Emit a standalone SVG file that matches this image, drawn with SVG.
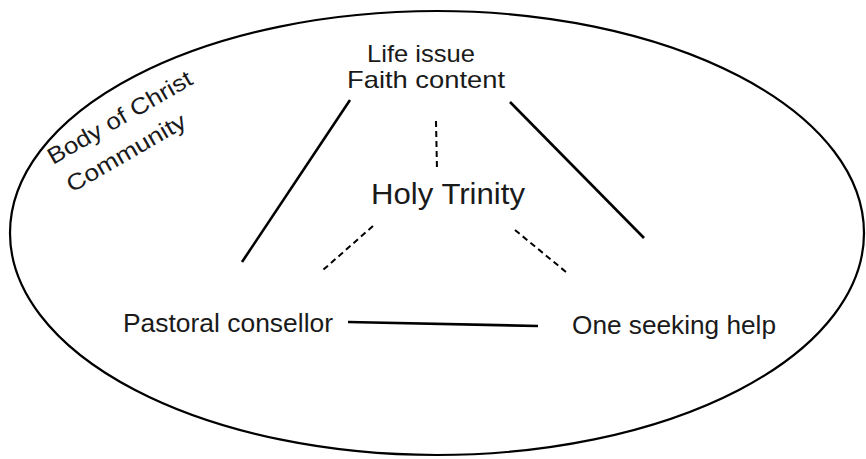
<svg xmlns="http://www.w3.org/2000/svg" width="866" height="459" viewBox="0 0 866 459">
<style>
text{font-family:"Liberation Sans",Arial,sans-serif;fill:#1a1a1a;}
.solid{stroke:#000;stroke-width:2.6;fill:none;}
.dash{stroke:#000;stroke-width:2;fill:none;stroke-dasharray:6 4;}
</style>
<rect width="866" height="459" fill="#fff"/>
<g id="community">
<ellipse cx="437" cy="233" rx="427" ry="222" fill="none" stroke="#000" stroke-width="2.2"/>
<text transform="translate(53,165) rotate(-30)" font-size="23" textLength="163" lengthAdjust="spacingAndGlyphs">Body of Christ</text>
<text transform="translate(72,193) rotate(-30)" font-size="23" textLength="134" lengthAdjust="spacingAndGlyphs">Community</text>
</g>
<g id="life-issue">
<text x="367" y="62" font-size="24" textLength="108" lengthAdjust="spacingAndGlyphs">Life issue</text>
<text x="347" y="88" font-size="24" textLength="158" lengthAdjust="spacingAndGlyphs">Faith content</text>
</g>
<g id="holy-trinity">
<text x="371" y="204" font-size="29" textLength="154" lengthAdjust="spacingAndGlyphs">Holy Trinity</text>
</g>
<g id="pastoral-counsellor">
<text x="123" y="332" font-size="25" textLength="210" lengthAdjust="spacingAndGlyphs">Pastoral consellor</text>
</g>
<g id="one-seeking-help">
<text x="572" y="334" font-size="25" textLength="204" lengthAdjust="spacingAndGlyphs">One seeking help</text>
</g>
<g id="connectors">
<line class="solid" x1="350" y1="100" x2="242" y2="262"/>
<line class="solid" x1="510" y1="102" x2="644" y2="238"/>
<line class="solid" x1="348" y1="322" x2="538" y2="326" stroke-width="3"/>
<line class="dash" x1="436" y1="121" x2="437" y2="170"/>
<line class="dash" x1="373" y1="226" x2="323" y2="270"/>
<line class="dash" x1="515" y1="230" x2="566" y2="272"/>
</g>
</svg>
